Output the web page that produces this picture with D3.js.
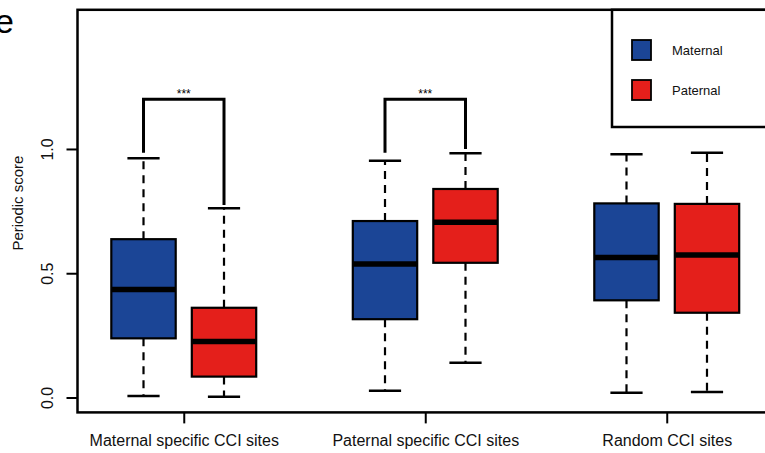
<html>
<head>
    <title>Periodic score</title>
    <script src="https://d3js.org/d3.v7.min.js"></script>
    <style>
        body { margin: 0; background: #fff; }
        svg { font-family: "Liberation Sans", Arial, sans-serif; overflow: hidden; }
        .whisker { stroke: black; stroke-width: 2.2; stroke-dasharray: 8,6; }
    </style>
</head>
<body>
    <svg id="chart" width="765" height="453"></svg>
    <script>
        // data
        var groups = ["Maternal specific CCI sites", "Paternal specific CCI sites", "Random CCI sites"];
        var series = ["Maternal", "Paternal"];
        var colors = ["#1b4596", "#e41f1b"];
        // [low whisker, Q1, median, Q3, high whisker] per group
        var maternalStats = [[0.006, 0.238, 0.435, 0.637, 0.963],
                             [0.027, 0.315, 0.537, 0.710, 0.953],
                             [0.019, 0.391, 0.563, 0.781, 0.979]];
        var paternalStats = [[0.003, 0.084, 0.225, 0.361, 0.761],
                             [0.140, 0.542, 0.705, 0.839, 0.983],
                             [0.022, 0.341, 0.573, 0.779, 0.985]];
        var yTicks = [0, 0.5, 1.0];
        var sigGroups = [0, 1];
        var sigLabels = ["***", "***"];
        var sigHeight = [1.2, 1.2];
        var sigLegEnds = [[0.985, 0.775], [0.985, 1.0]];

        var svg = d3.select("#chart");
        var pLeft = 77.5, pTop = 9.8, pRight = 773, pBottom = 412.4;

        var x = d3.scaleLinear().domain([0.18, 8.82]).range([pLeft, pRight]);
        var y = d3.scaleLinear().domain([-0.06, 1.56]).range([pBottom, pTop]);
        var boxW = x(0.8) - x(0), capW = x(0.4) - x(0);

        var boxes = [];
        groups.forEach(function (g, i) {
            [maternalStats[i], paternalStats[i]].forEach(function (s, j) {
                boxes.push({ pos: 1 + 3 * i + j, s: s, color: colors[j] });
            });
        });

        var b = svg.append("g").selectAll("g").data(boxes).enter().append("g");
        // whiskers
        b.append("line").attr("class", "whisker")
            .attr("x1", function (d) { return x(d.pos); }).attr("x2", function (d) { return x(d.pos); })
            .attr("y1", function (d) { return y(d.s[3]); }).attr("y2", function (d) { return y(d.s[4]); });
        b.append("line").attr("class", "whisker")
            .attr("x1", function (d) { return x(d.pos); }).attr("x2", function (d) { return x(d.pos); })
            .attr("y1", function (d) { return y(d.s[1]); }).attr("y2", function (d) { return y(d.s[0]); });
        [0, 4].forEach(function (k) {
            b.append("line")
                .attr("x1", function (d) { return x(d.pos) - capW / 2; })
                .attr("x2", function (d) { return x(d.pos) + capW / 2; })
                .attr("y1", function (d) { return y(d.s[k]); }).attr("y2", function (d) { return y(d.s[k]); })
                .attr("stroke", "black").attr("stroke-width", 2.5);
        });
        b.append("rect")
            .attr("x", function (d) { return x(d.pos) - boxW / 2; })
            .attr("width", boxW)
            .attr("y", function (d) { return y(d.s[3]); })
            .attr("height", function (d) { return y(d.s[1]) - y(d.s[3]); })
            .attr("fill", function (d) { return d.color; })
            .attr("stroke", "black").attr("stroke-width", 2.2);
        b.append("line")
            .attr("x1", function (d) { return x(d.pos) - boxW / 2; })
            .attr("x2", function (d) { return x(d.pos) + boxW / 2; })
            .attr("y1", function (d) { return y(d.s[2]); }).attr("y2", function (d) { return y(d.s[2]); })
            .attr("stroke", "black").attr("stroke-width", 5.5);

        // significance brackets
        sigGroups.forEach(function (g, k) {
            var p0 = 1 + 3 * g, p1 = p0 + 1;
            svg.append("path")
                .attr("d", "M" + x(p0) + "," + y(sigLegEnds[k][0]) + "V" + y(sigHeight[k]) +
                    "H" + x(p1) + "V" + y(sigLegEnds[k][1]))
                .attr("fill", "none").attr("stroke", "black").attr("stroke-width", 3);
            svg.append("text")
                .attr("x", x((p0 + p1) / 2)).attr("y", y(sigHeight[k]) - 1)
                .attr("text-anchor", "middle").attr("font-size", 12)
                .text(sigLabels[k]);
        });

        // axes
        var yAxis = svg.append("g").attr("transform", "translate(" + pLeft + ",0)")
            .call(d3.axisLeft(y).tickValues(yTicks).tickFormat(d3.format(".1f")).tickSize(11));
        yAxis.select(".domain").remove();
        yAxis.selectAll(".tick line").attr("stroke-width", 2);
        yAxis.selectAll(".tick text")
            .attr("font-size", 16).attr("font-family", null).attr("fill", "#111")
            .attr("x", 0).attr("dy", null)
            .attr("text-anchor", "middle")
            .attr("transform", "translate(-25,0) rotate(-90)");

        var xAxis = svg.append("g").attr("transform", "translate(0," + pBottom + ")")
            .call(d3.axisBottom(x).tickValues([1.5, 4.5, 7.5])
                .tickFormat(function (d, i) { return groups[i]; }).tickSize(11));
        xAxis.select(".domain").remove();
        xAxis.selectAll(".tick line").attr("stroke-width", 2);
        xAxis.selectAll(".tick text").attr("font-size", 16).attr("font-family", null)
            .attr("fill", "#111").attr("y", 22).attr("dy", "0.71em");

        // plot border
        svg.append("rect").attr("x", pLeft).attr("y", pTop)
            .attr("width", pRight - pLeft).attr("height", pBottom - pTop)
            .attr("fill", "none").attr("stroke", "black").attr("stroke-width", 2.5);

        svg.append("text").attr("transform", "translate(23," + ((pTop + pBottom) / 2 - 8) + ") rotate(-90)")
            .attr("text-anchor", "middle").attr("font-size", 15).attr("fill", "#111")
            .text("Periodic score");

        // legend
        var lg = svg.append("g");
        lg.append("rect").attr("x", 612).attr("y", pTop).attr("width", 200).attr("height", 127 - pTop)
            .attr("fill", "white").attr("stroke", "black").attr("stroke-width", 2.5);
        series.forEach(function (s, i) {
            lg.append("rect").attr("x", 632).attr("y", 40 + i * 40).attr("width", 19).attr("height", 20)
                .attr("fill", colors[i]).attr("stroke", "black").attr("stroke-width", 1.8);
            lg.append("text").attr("x", 672).attr("y", 50 + i * 40).attr("dy", "0.35em")
                .attr("font-size", 13).attr("fill", "#111").text(s);
        });

        // panel letter
        svg.append("text").attr("x", -5).attr("y", 33).attr("font-size", 34).text("e");
    </script>
</body>
</html>
